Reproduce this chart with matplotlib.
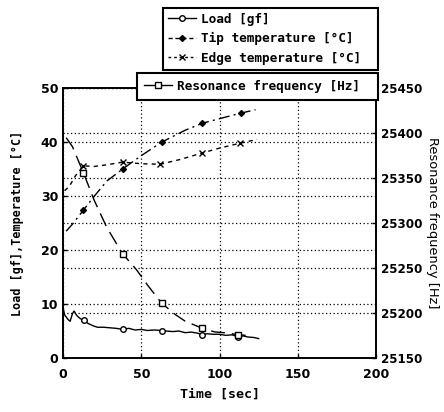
import matplotlib
matplotlib.use("Agg")
import matplotlib.pyplot as plt
from matplotlib.lines import Line2D

# load on the left axis [gf]
load_t = [0, 1, 3, 4.5, 6, 7, 9, 11, 13.5, 16, 19, 22, 26, 30, 34, 38, 42, 46,
          50, 54, 58, 63, 66, 70, 74, 78, 82, 86, 89, 92, 96, 100, 104, 108,
          112, 115, 118, 122, 125]
load = [9.4, 8.0, 7.2, 6.8, 8.2, 8.7, 7.8, 7.3, 7.0, 6.4, 6.0, 5.7, 5.7, 5.6,
        5.5, 5.3, 5.5, 5.2, 5.3, 5.1, 5.2, 5.1, 5.0, 4.9, 5.0, 4.7, 4.8, 4.6,
        4.3, 4.5, 4.4, 4.4, 4.2, 4.3, 3.9, 4.1, 3.9, 3.8, 3.6]
load_marks = [8, 15, 21, 28, 34]

# temperatures [degC]
tip_t = [2, 6, 13, 20, 28, 38, 50, 63, 78, 89, 102, 114, 123]
tip = [23.5, 24.8, 27.4, 30.0, 32.8, 35.0, 37.5, 40.0, 42.2, 43.5, 44.5, 45.4, 46.0]
tip_marks = [2, 5, 7, 9, 11]

edge_t = [1, 4, 8, 13, 20, 28, 38, 50, 62, 75, 89, 100, 113, 124]
edge = [31.0, 31.8, 33.8, 35.6, 35.5, 35.8, 36.3, 36.0, 35.9, 36.8, 38.0,
        38.9, 39.8, 40.5]
edge_marks = [3, 6, 8, 10, 12]

# resonance frequency on the right axis [Hz]
res_t = [2, 6, 13, 20, 28, 38, 47, 54, 63, 72, 78, 89, 97, 104, 112, 118]
res = [25395, 25385, 25356, 25325, 25295, 25266, 25248, 25231, 25211, 25198,
       25191, 25183, 25179, 25178, 25176, 25175]
res_marks = [2, 5, 8, 11, 14]

mono = "DejaVu Sans Mono"
plt.rcParams["font.family"] = "DejaVu Sans"
plt.rcParams["font.weight"] = "bold"

fig = plt.figure(figsize=(4.44, 4.12), dpi=100)
ax = fig.add_axes([0.142, 0.131, 0.705, 0.655])
ax2 = ax.twinx()

ax.plot(load_t, load, "-", color="black", lw=1.0, marker="o", ms=4,
        mfc="white", mec="black", mew=1.0, markevery=load_marks)
ax.plot(tip_t, tip, color="black", lw=1.0, dashes=(8, 3, 1.5, 3),
        marker="D", ms=3, mfc="black", markevery=tip_marks)
ax.plot(edge_t, edge, color="black", lw=1.0, dashes=(3, 3),
        marker="x", ms=4, mew=1.0, markevery=edge_marks)
ax2.plot(res_t, res, color="black", lw=1.0, dashes=(10, 5),
         marker="s", ms=4.5, mfc="white", mec="black", mew=1.0,
         markevery=res_marks)

ax.set_xlim(0, 200)
ax.set_ylim(0, 50)
ax.set_xticks([0, 50, 100, 150, 200])
ax.set_yticks([0, 10, 20, 30, 40, 50])
ax2.set_ylim(25150, 25450)
ax2.set_yticks(range(25150, 25451, 50))

ax.grid(True, color="black", ls=(0, (1, 2)), lw=0.9)
ax2.grid(True, axis="y", color="black", ls=(0, (1, 2)), lw=0.9)

for a in (ax, ax2):
    a.tick_params(direction="in", length=3, width=1, labelsize=9)
    for s in a.spines.values():
        s.set_linewidth(1.2)
ax.tick_params(axis="x", pad=7)
ax2.tick_params(axis="y", labelsize=8.6)

ax.set_xlabel("Time [sec]", family=mono, fontsize=9.5, fontweight="bold",
              labelpad=5)
ax.set_ylabel("Load [gf],Temperature [\u00b0C]", family=mono, fontsize=8.5,
              fontweight="bold", labelpad=12)
ax2.set_ylabel("Resonance frequency [Hz]", fontsize=9.4, fontweight="normal",
               rotation=-90, labelpad=12)

h_load = Line2D([], [], color="black", lw=1.0, marker="o", ms=4,
                mfc="white", mec="black")
h_tip = Line2D([], [], color="black", lw=1.0, dashes=(3, 2),
               marker="D", ms=3, mfc="black")
h_edge = Line2D([], [], color="black", lw=1.0, dashes=(2, 2),
                marker="x", ms=4)
h_res = Line2D([], [], color="black", lw=1.0, marker="s", ms=4,
               mfc="white", mec="black")

leg_kw = dict(loc="upper left", mode="expand", fancybox=False, framealpha=1,
              edgecolor="black", borderaxespad=0,
              prop={"family": mono, "weight": "bold", "size": 9.2},
              handlelength=2.2, handletextpad=0.4)
leg1 = fig.legend([h_load, h_tip, h_edge],
                  ["Load [gf]", "Tip temperature [\u00b0C]",
                   "Edge temperature [\u00b0C]"],
                  bbox_to_anchor=(0.367, 0.981, 0.484, 0.0),
                  borderpad=0.4, labelspacing=0.5, **leg_kw)
leg1.get_frame().set_linewidth(1.5)
leg2 = fig.legend([h_res], ["Resonance frequency [Hz]"],
                  bbox_to_anchor=(0.309, 0.823, 0.542, 0.0),
                  borderpad=0.55, **leg_kw)
leg2.get_frame().set_linewidth(1.5)

fig.savefig("out.png", dpi=100)
